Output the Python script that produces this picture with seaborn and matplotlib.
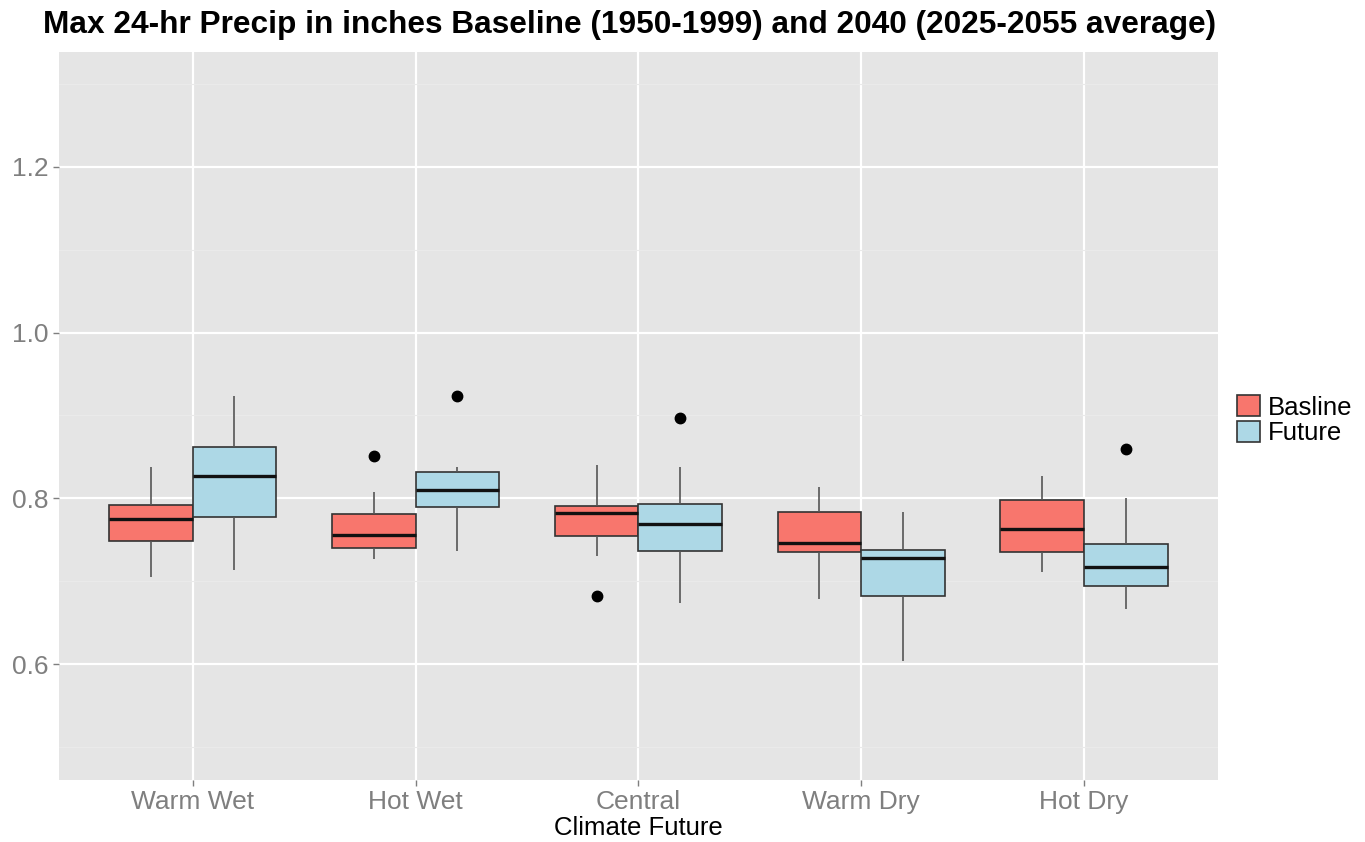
"""Boxplot of max 24-hr precipitation, baseline vs future, by climate future."""

import numpy as np
import pandas as pd
import matplotlib
matplotlib.use("Agg")
import matplotlib.pyplot as plt
import seaborn as sns

# Climate futures along the x axis
categories = ["Warm Wet", "Hot Wet", "Central", "Warm Dry", "Hot Dry"]
periods = ["Basline", "Future"]

baseline_values = [
    [0.705, 0.735, 0.749, 0.762, 0.775, 0.783, 0.792, 0.815, 0.838],
    [0.727, 0.734, 0.740, 0.748, 0.756, 0.768, 0.781, 0.808, 0.851],
    [0.682, 0.730, 0.755, 0.770, 0.782, 0.786, 0.791, 0.815, 0.840],
    [0.678, 0.710, 0.735, 0.740, 0.746, 0.765, 0.783, 0.798, 0.814],
    [0.711, 0.724, 0.735, 0.750, 0.763, 0.780, 0.798, 0.812, 0.827],
]
future_values = [
    [0.713, 0.752, 0.777, 0.805, 0.827, 0.845, 0.862, 0.890, 0.924],
    [0.737, 0.765, 0.789, 0.800, 0.810, 0.822, 0.832, 0.838, 0.924],
    [0.674, 0.710, 0.736, 0.752, 0.769, 0.781, 0.793, 0.838, 0.897],
    [0.604, 0.650, 0.682, 0.705, 0.728, 0.733, 0.738, 0.760, 0.784],
    [0.667, 0.680, 0.694, 0.705, 0.717, 0.730, 0.745, 0.800, 0.859],
]

y_ticks = [0.6, 0.8, 1.0, 1.2]
y_minor = [0.5, 0.7, 0.9, 1.1, 1.3]

rows = []
for cat, base, fut in zip(categories, baseline_values, future_values):
    rows += [(cat, periods[0], v) for v in base]
    rows += [(cat, periods[1], v) for v in fut]
df = pd.DataFrame(rows, columns=["Climate Future", "Period", "Precip"])

sns.set_theme(style="darkgrid", rc={
    "axes.facecolor": "#E5E5E5",
    "grid.color": "white",
    "grid.linewidth": 1.5,
    "axes.edgecolor": "#E5E5E5",
})
plt.rcParams["font.family"] = ["Liberation Sans", "DejaVu Sans"]

fig = plt.figure(figsize=(13.65, 8.42), dpi=100)
ax = fig.add_axes([0.0432, 0.0736, 0.8489, 0.865])

sns.boxplot(
    data=df, x="Climate Future", y="Precip", hue="Period",
    order=categories, hue_order=periods,
    palette={"Basline": "#F8766D", "Future": "#ADD8E6"},
    width=0.75, gap=0, whis=1.5, linecolor="#333333", linewidth=1.2,
    saturation=1,
    medianprops=dict(color="#111111", linewidth=2.4),
    whiskerprops=dict(color="#555555", linewidth=1.2),
    capprops=dict(linewidth=0),
    flierprops=dict(marker="o", markerfacecolor="black",
                    markeredgecolor="black", markersize=7.5),
    ax=ax,
)

ax.set_xlim(-0.6, 4.6)
ax.set_ylim(0.46, 1.339)
ax.set_yticks(y_ticks)
ax.set_yticklabels([f"{t:.1f}" for t in y_ticks])
ax.set_yticks(y_minor, minor=True)
ax.grid(which="minor", axis="y", color="#EAEAEA", linewidth=0.8)
ax.grid(which="major", color="white", linewidth=1.6)
ax.set_axisbelow(True)
for s in ax.spines.values():
    s.set_visible(False)

ax.tick_params(axis="both", which="major", labelsize=19, labelcolor="#7F7F7F",
               color="#7F7F7F", length=4, width=1, direction="out",
               bottom=True, left=True)
ax.tick_params(axis="y", which="minor", length=0)
ax.set_xlabel("Climate Future", fontsize=18.5, color="black", labelpad=1)
ax.set_ylabel("")

sns.move_legend(ax, "center left", bbox_to_anchor=(1.008, 0.494), title=None,
                frameon=False, fontsize=18.5, handlelength=0.9, handleheight=0.9,
                handletextpad=0.3, labelspacing=0.05, borderaxespad=0)
for t in ax.get_legend().get_texts():
    t.set_color("black")

fig.text(0.0315, 1 - 33 / 842,
         "Max 24-hr Precip in inches Baseline (1950-1999) and 2040 (2025-2055 average)",
         fontsize=22.8, fontweight="bold", va="baseline", ha="left", color="black")

fig.savefig("out.png", dpi=100)
